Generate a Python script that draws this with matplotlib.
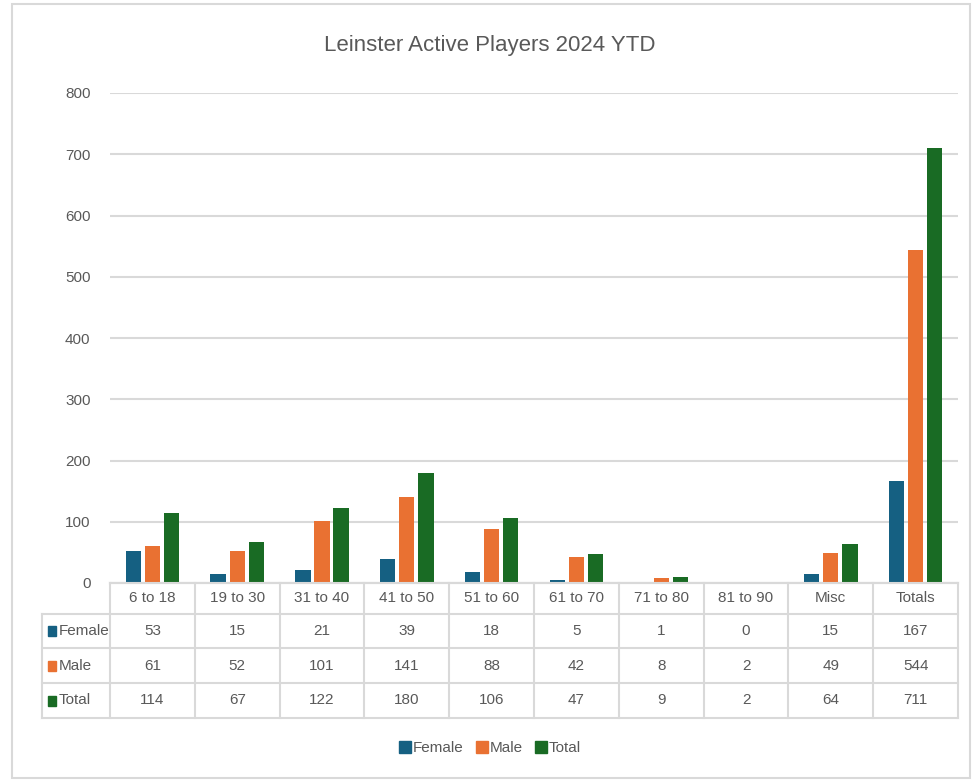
import matplotlib
matplotlib.use("Agg")
import matplotlib.pyplot as plt
from matplotlib.patches import Rectangle
from matplotlib.lines import Line2D
import numpy as np

plt.rcParams['font.family'] = ['Liberation Sans Narrow', 'Liberation Sans', 'DejaVu Sans']

categories = ["6 to 18", "19 to 30", "31 to 40", "41 to 50", "51 to 60",
              "61 to 70", "71 to 80", "81 to 90", "Misc", "Totals"]
female = [53, 15, 21, 39, 18, 5, 1, 0, 15, 167]
male = [61, 52, 101, 141, 88, 42, 8, 2, 49, 544]
total = [114, 67, 122, 180, 106, 47, 9, 2, 64, 711]
series_names = ["Female", "Male", "Total"]
colors = ["#156082", "#E97132", "#196B24"]
y_ticks = [0, 100, 200, 300, 400, 500, 600, 700, 800]

W, H = 980, 781
grid_c = "#d9d9d9"
text_c = "#595959"

fig = plt.figure(figsize=(W / 100, H / 100), dpi=100)
fig.patch.set_facecolor("white")

# outer chart border
fig.add_artist(Rectangle((12 / W, 1 - 778 / H), 958 / W, 774 / H,
                         transform=fig.transFigure, fill=False,
                         edgecolor=grid_c, lw=1.5))

# main plot area
ax = fig.add_axes([110 / W, 1 - 583 / H, 848 / W, 490 / H])
x = np.arange(len(categories))
bw = 0.18
offs = [-0.225, 0, 0.225]
for vals, off, c in zip([female, male, total], offs, colors):
    ax.bar(x + off, vals, width=bw, color=c, zorder=3)

ax.set_xlim(-0.5, len(categories) - 0.5)
ax.set_ylim(0, 800)
ax.set_yticks(y_ticks)
ax.yaxis.grid(True, color=grid_c, lw=1.5, zorder=0)
ax.tick_params(axis="y", length=0, pad=14, labelsize=11, labelcolor=text_c)
ax.tick_params(axis="x", length=0, labelbottom=False)
for s in ["top", "right", "left"]:
    ax.spines[s].set_visible(False)
ax.spines["bottom"].set_color(grid_c)
ax.spines["bottom"].set_linewidth(1.5)

fig.text(490 / W, 1 - 45 / H, "Leinster Active Players 2024 YTD",
         ha="center", va="center", fontsize=16, color=text_c)

# data table below
tax = fig.add_axes([110 / W, 1 - 718 / H, 848 / W, 135 / H], sharex=ax)
tax.set_ylim(135, 0)
tax.axis("off")
row_edges = [0, 31, 65, 100, 135]
left_x = -0.5 - 68 / 84.8
n = len(categories)

# horizontal lines
tax.plot([-0.5, n - 0.5], [row_edges[0]] * 2, color=grid_c, lw=1.5, clip_on=False)
for ye in row_edges[1:]:
    tax.plot([left_x, n - 0.5], [ye, ye], color=grid_c, lw=1.5, clip_on=False)
# vertical lines
for i in range(n + 1):
    tax.plot([i - 0.5, i - 0.5], [row_edges[0], row_edges[-1]],
             color=grid_c, lw=1.5, clip_on=False)
tax.plot([left_x, left_x], [row_edges[1], row_edges[-1]],
         color=grid_c, lw=1.5, clip_on=False)

for i, cat in enumerate(categories):
    tax.text(i, (row_edges[0] + row_edges[1]) / 2, cat, ha="center",
             va="center", fontsize=11, color=text_c)

for r, (name, vals, c) in enumerate(zip(series_names, [female, male, total], colors)):
    yc = (row_edges[r + 1] + row_edges[r + 2]) / 2
    tax.add_patch(Rectangle((left_x + 0.07, yc - 5), 0.1, 10, color=c,
                            clip_on=False))
    tax.text(left_x + 0.2, yc, name, ha="left", va="center", fontsize=11,
             color=text_c, clip_on=False)
    for i, v in enumerate(vals):
        tax.text(i, yc, str(v), ha="center", va="center", fontsize=11,
                 color=text_c)

handles = [Line2D([], [], marker="s", ls="", color=c, markersize=8)
           for c in colors]
fig.legend(handles, series_names, loc="center", ncol=3,
           bbox_to_anchor=(490 / W, 1 - 748 / H), frameon=False,
           fontsize=11, labelcolor=text_c, handletextpad=0.1,
           columnspacing=0.8, handlelength=0.8)

fig.savefig("out.png", dpi=100)
